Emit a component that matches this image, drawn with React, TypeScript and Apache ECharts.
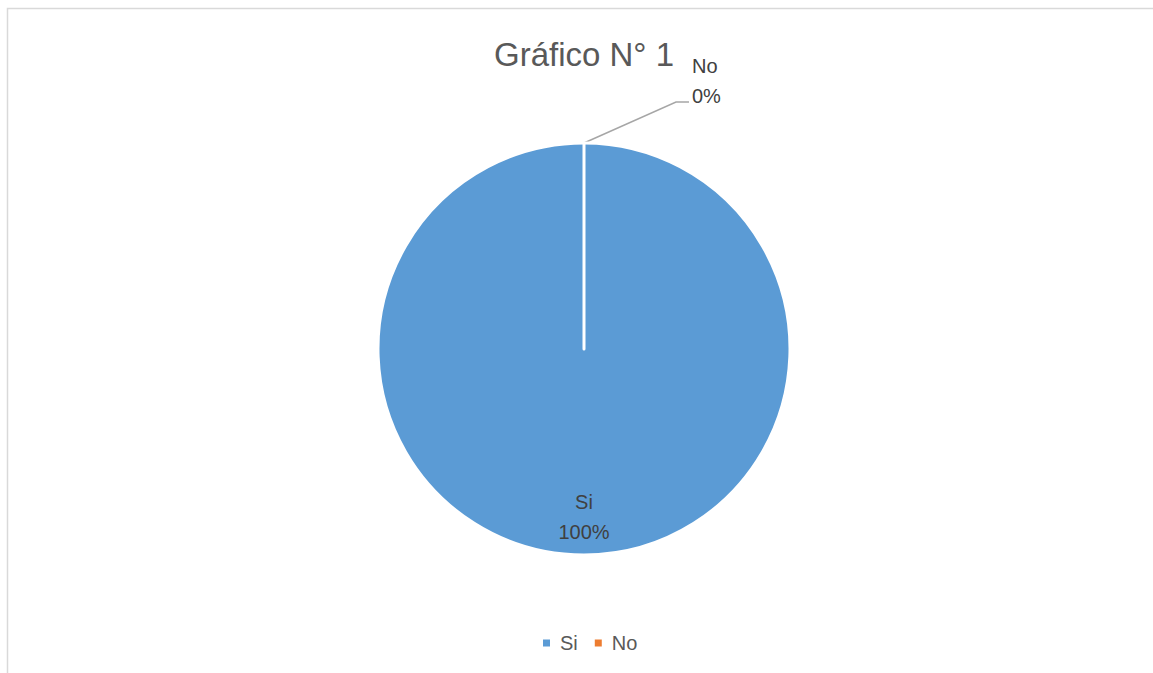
import React, { useEffect, useRef } from "react";
import * as echarts from "echarts";

const titleText = "Gráfico N° 1";
const categories = ["Si", "No"];
const values = [100, 0];
const colors = ["#5B9BD5", "#ED7D31"];

export default function App() {
  const ref = useRef<HTMLDivElement>(null);
  useEffect(() => {
    document.body.style.margin = "0";
    const chart = echarts.init(ref.current!, null, { renderer: "svg" });
    const font = "Liberation Sans, Arial, sans-serif";
    chart.setOption({
      animation: false,
      backgroundColor: "#ffffff",
      color: colors,
      title: {
        text: titleText,
        left: 489,
        top: 33,
        textStyle: { fontFamily: font, fontSize: 33, fontWeight: "normal", color: "#595959" },
      },
      legend: {
        bottom: 15,
        left: 536,
        icon: "rect",
        itemWidth: 9,
        itemHeight: 9,
        itemGap: 15,
        textStyle: { fontFamily: font, fontSize: 20, color: "#595959", padding: [0, 0, 0, 4] },
        data: categories,
      },
      graphic: [
        {
          type: "rect",
          shape: { x: 7.5, y: 8.5, width: 1200, height: 700 },
          style: { fill: "none", stroke: "#d9d9d9", lineWidth: 1.5 },
          silent: true,
        },
      ],
      series: [
        {
          type: "pie",
          center: [584, 349],
          radius: [0, 206],
          startAngle: 90,
          clockwise: true,
          avoidLabelOverlap: false,
          itemStyle: { borderColor: "#ffffff", borderWidth: 3 },
          label: {
            fontFamily: font,
            fontSize: 20,
            lineHeight: 30,
            color: "#404040",
            formatter: (p: any) => `${p.name}\n${Math.round(p.percent)}%`,
          },
          labelLine: { lineStyle: { color: "#a6a6a6", width: 1.5 }, length: 20, length2: 12 },
          labelLayout: (params: any) => {
            if (params.dataIndex === 0) {
              return { dy: 62 };
            }
            const pts = params.labelLinePoints;
            const s = pts ? pts[0] : [584, 143];
            return {
              x: s[0] + 108,
              y: s[1] - 62,
              align: "left",
              verticalAlign: "middle",
              labelLinePoints: [
                [s[0], s[1]],
                [s[0] + 92, s[1] - 41],
                [s[0] + 105, s[1] - 41],
              ],
            };
          },
          data: categories.map((c, i) => ({
            name: c,
            value: values[i],
            label: i === 0 ? { position: "inside" } : { position: "outside" },
            labelLine: { show: i !== 0 },
          })),
        },
      ],
    });
    return () => chart.dispose();
  }, []);
  return <div ref={ref} style={{ width: 1153, height: 673 }} />;
}
